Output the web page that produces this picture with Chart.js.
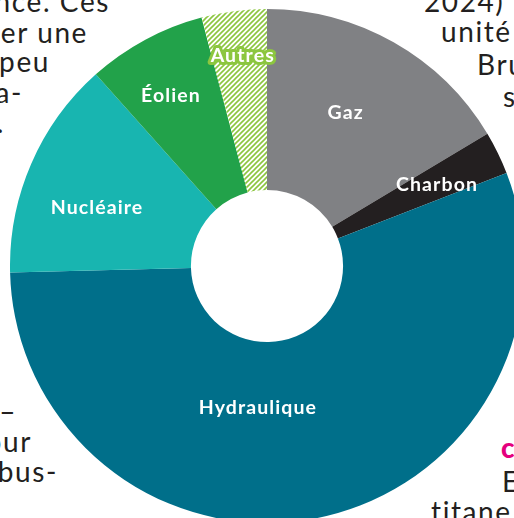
<!DOCTYPE html>
<html>
<head>
<meta charset="utf-8">
<script src="https://cdn.jsdelivr.net/npm/chart.js@4/dist/chart.umd.min.js"></script>
<style>
  html, body { margin:0; padding:0; width:514px; height:518px; overflow:hidden; background:#fff; }
  .t { position:absolute; white-space:nowrap; font-family:Lato, sans-serif; font-weight:400; font-size:28px; line-height:1; letter-spacing:1.6px; color:#231f20; }
  .pink { color:#e5007e; font-weight:900; }
  #c { position:absolute; left:10px; top:9px; }
</style>
</head>
<body>
<!-- background article text fragments (right-anchored on the left side) -->
<div class="t" style="right:404px; top:-13px">ance. Ces</div>
<div class="t" style="right:426px; top:18px">er une</div>
<div class="t" style="right:464px; top:47px">peu</div>
<div class="t" style="right:491px; top:78px">a-</div>
<div class="t" style="right:509px; top:108px">.</div>
<div class="t" style="right:497px; top:397px">–</div>
<div class="t" style="right:482px; top:427px">our</div>
<div class="t" style="right:456px; top:457px">mbus-</div>
<!-- right side fragments -->
<div class="t" style="left:424px; top:-13px">2024)</div>
<div class="t" style="left:441px; top:17px">unité d</div>
<div class="t" style="left:477px; top:50px">Bru</div>
<div class="t" style="left:503px; top:82px">s</div>
<div class="t pink" style="left:501px; top:433px">c</div>
<div class="t" style="left:502px; top:467px">E</div>
<div class="t" style="left:431px; top:497px">titane</div>

<canvas id="c" width="514" height="514"></canvas>
<script>
const categories = ['Gaz', 'Charbon', 'Hydraulique', 'Nucléaire', 'Éolien', 'Autres'];
const shares = [16.4, 2.7, 55.5, 13.8, 7.5, 4.1];
const sliceColors = ['#808184', '#231f20', '#006f8a', '#18b5b0', '#22a24a', 'hatch'];
// label placement relative to each slice (angle offset in degrees, radius as fraction of outer radius)
const labelAngleOffset = [-2.3, 0.6, 15, -4.5, -1.2, 0.8];
const labelRadius = [0.669, 0.733, 0.554, 0.699, 0.76, 0.823];

function hatchPattern() {
  const s = 5;
  const pc = document.createElement('canvas');
  pc.width = s; pc.height = s;
  const p = pc.getContext('2d');
  p.fillStyle = '#ffffff';
  p.fillRect(0, 0, s, s);
  p.strokeStyle = '#8cc63f';
  p.lineWidth = 1.6;
  p.beginPath();
  p.moveTo(0, s); p.lineTo(s, 0);
  p.moveTo(-1, 1); p.lineTo(1, -1);
  p.moveTo(s - 1, s + 1); p.lineTo(s + 1, s - 1);
  p.stroke();
  return p.createPattern(pc, 'repeat');
}

const ctx0 = document.getElementById('c').getContext('2d');
const bg = sliceColors.map(c => c === 'hatch' ? hatchPattern() : c);

const sliceLabels = {
  id: 'sliceLabels',
  afterDatasetsDraw(chart) {
    const ctx = chart.ctx;
    const meta = chart.getDatasetMeta(0);
    ctx.save();
    ctx.font = '700 19.5px Lato, sans-serif';
    ctx.letterSpacing = '1.1px';
    ctx.textAlign = 'center';
    ctx.textBaseline = 'middle';
    meta.data.forEach((arc, i) => {
      const p = arc.getProps(['x', 'y', 'startAngle', 'endAngle', 'outerRadius'], true);
      const a = (p.startAngle + p.endAngle) / 2 + labelAngleOffset[i] * Math.PI / 180;
      const r = p.outerRadius * labelRadius[i];
      const x = p.x + Math.cos(a) * r;
      const y = p.y + Math.sin(a) * r;
      if (sliceColors[i] === 'hatch') {
        ctx.strokeStyle = '#8cc63f';
        ctx.lineWidth = 6;
        ctx.lineJoin = 'round';
        ctx.strokeText(categories[i], x, y);
      }
      ctx.fillStyle = '#ffffff';
      ctx.fillText(categories[i], x, y);
    });
    ctx.restore();
  }
};

new Chart(ctx0, {
  type: 'doughnut',
  data: {
    labels: categories,
    datasets: [{
      data: shares,
      backgroundColor: bg,
      borderWidth: 0,
      hoverOffset: 0
    }]
  },
  options: {
    responsive: false,
    animation: false,
    cutout: '29.6%',
    layout: { padding: 0 },
    plugins: { legend: { display: false }, tooltip: { enabled: false } }
  },
  plugins: [sliceLabels]
});
</script>
</body>
</html>
